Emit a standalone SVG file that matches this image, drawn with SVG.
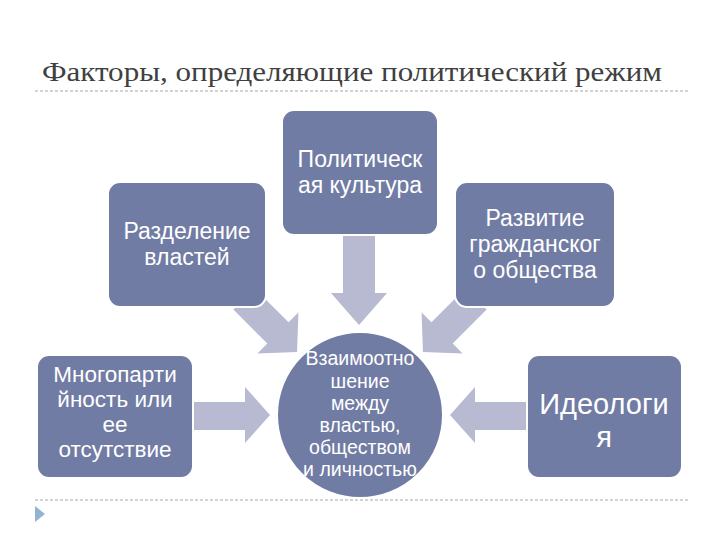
<svg xmlns="http://www.w3.org/2000/svg" width="720" height="540" viewBox="0 0 720 540">
<style>
.node{fill:#717ca4;stroke:#ffffff;stroke-width:2}
.lbl{font-family:"Liberation Sans",Arial,sans-serif;fill:#ffffff;text-anchor:middle}
.arr{fill:#b7bad0}
.dash{stroke:#a6a6a6;stroke-width:1;stroke-dasharray:3,2;fill:none}
</style>
<defs>
<polygon id="diagArrow" points="0,-15 48,-15 48,-29 75,0 48,29 48,15 0,15"/>
</defs>
<rect width="720" height="540" fill="#ffffff"/>
<text x="42" y="81" font-family="'Liberation Serif','DejaVu Serif',serif" font-size="28" fill="#404040" textLength="620" lengthAdjust="spacingAndGlyphs">Факторы, определяющие политический режим</text>
<line class="dash" x1="35" y1="91" x2="688" y2="91"/>
<line class="dash" x1="35" y1="500" x2="688" y2="500"/>
<polygon points="35,506 45,514 35,522" fill="#93b3d3"/>
<g id="connectors">
<polygon class="arr" points="343,230 375,230 375,293 387,293 359,325 331,293 343,293"/>
<use href="#diagArrow" class="arr" transform="translate(244,299) rotate(45)"/>
<use href="#diagArrow" class="arr" transform="translate(476,299) rotate(135)"/>
<polygon class="arr" points="190,402 245,402 245,387 270,415 245,443 245,430 190,430"/>
<polygon class="arr" points="530,402 475,402 475,387 450,415 475,443 475,430 530,430"/>
</g>
<g id="node-culture">
<rect class="node" x="282" y="110" width="156" height="125" rx="12"/>
<text class="lbl" font-size="23"><tspan x="360" y="167">Политическ</tspan><tspan x="360" y="193">ая культура</tspan></text>
</g>
<g id="node-powers">
<rect class="node" x="108" y="182" width="158" height="125" rx="12"/>
<text class="lbl" font-size="23"><tspan x="187" y="239">Разделение</tspan><tspan x="187" y="265">властей</tspan></text>
</g>
<g id="node-civil">
<rect class="node" x="455" y="182" width="160" height="125" rx="12"/>
<text class="lbl" font-size="23"><tspan x="535" y="226">Развитие</tspan><tspan x="535" y="252">гражданског</tspan><tspan x="535" y="278">о общества</tspan></text>
</g>
<g id="node-parties">
<rect class="node" x="37" y="355" width="156" height="123" rx="12"/>
<text class="lbl" font-size="22.5"><tspan x="115" y="382">Многопарти</tspan><tspan x="115" y="407">йность или</tspan><tspan x="115" y="432">ее</tspan><tspan x="115" y="457">отсутствие</tspan></text>
</g>
<g id="node-ideology">
<rect class="node" x="527" y="355" width="155" height="123" rx="12"/>
<text class="lbl" font-size="29"><tspan x="604" y="414">Идеологи</tspan><tspan x="604" y="447">я</tspan></text>
</g>
<g id="node-center">
<circle class="node" cx="360" cy="415" r="83"/>
<text class="lbl" font-size="19.5"><tspan x="360" y="365">Взаимоотно</tspan><tspan x="360" y="388">шение</tspan><tspan x="360" y="410">между</tspan><tspan x="360" y="432">властью,</tspan><tspan x="360" y="454">обществом</tspan><tspan x="360" y="476">и личностью</tspan></text>
</g>
</svg>
